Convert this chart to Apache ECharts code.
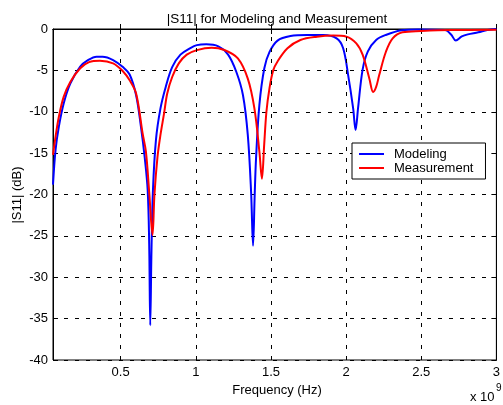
<!DOCTYPE html>
<html>
<head>
<meta charset="utf-8">
<script src="https://cdn.jsdelivr.net/npm/echarts@6/dist/echarts.min.js"></script>
<style>
html,body{margin:0;padding:0;background:#fff;}
#c{width:503px;height:405px;}
</style>
</head>
<body>
<div id="c"></div>
<script>
// Frequency in units of 1e9 Hz
const xTicks = [0.5, 1, 1.5, 2, 2.5, 3];
const yTicks = [0, -5, -10, -15, -20, -25, -30, -35, -40];

const modelingFreq = [0.05,0.067,0.089,0.121,0.165,0.231,0.28,0.34,0.38,0.45,0.515,0.56,0.603,0.635,0.66,0.68,0.69,0.697,0.705,0.715,0.735,0.765,0.8,0.843,0.898,0.964,1.007,1.07,1.15,1.215,1.27,1.314,1.346,1.368,1.381,1.392,1.401,1.423,1.456,1.49,1.544,1.63,1.74,1.85,1.937,1.98,2.014,2.047,2.063,2.08,2.11,2.145,2.2,2.264,2.37,2.48,2.66,2.70,2.73,2.77,2.81,2.88,2.94,3.0];
const modelingDb   = [-18.8,-14.6,-11.8,-9.0,-6.6,-4.55,-3.8,-3.35,-3.35,-3.75,-4.6,-5.5,-8.0,-11.8,-15.5,-19.5,-26,-35.8,-27,-19.5,-13.4,-9.6,-7.0,-4.6,-3.1,-2.3,-1.95,-1.85,-2.1,-3.1,-5.2,-8.0,-12.8,-19.7,-26.2,-20,-15.6,-9.2,-4.75,-2.8,-1.4,-0.85,-0.72,-0.72,-1.13,-2.3,-5.6,-9.6,-12.2,-9.5,-4.9,-2.7,-1.33,-0.72,-0.15,-0.05,-0.12,-0.7,-1.4,-0.9,-0.65,-0.4,-0.12,0];

const measFreq = [0.05,0.067,0.089,0.121,0.165,0.231,0.29,0.362,0.45,0.515,0.56,0.603,0.646,0.668,0.69,0.712,0.725,0.745,0.765,0.789,0.81,0.843,0.887,0.94,1.007,1.106,1.19,1.28,1.346,1.39,1.423,1.44,1.455,1.47,1.49,1.515,1.543,1.61,1.696,1.806,1.915,2.003,2.068,2.11,2.155,2.18,2.2,2.22,2.265,2.31,2.375,2.5,2.7,3.0];
const measDb   = [-15.2,-13.0,-10.6,-8.2,-6.4,-4.75,-4.0,-3.83,-4.15,-5.1,-6.2,-7.8,-12.6,-14.8,-19.7,-24.9,-20,-15.5,-12.8,-10.2,-7.8,-5.8,-4.15,-3.1,-2.55,-2.26,-2.54,-3.55,-6.0,-9.6,-14.8,-18.1,-14,-10,-7.2,-5.0,-3.95,-2.33,-1.33,-0.93,-0.8,-0.93,-1.73,-3.1,-6.0,-7.6,-7.0,-5.6,-2.75,-1.13,-0.4,-0.24,-0.12,-0.1];

const zip = (a, b) => a.map((v, i) => [v, b[i]]);

const FONT = 'Liberation Sans, Arial, sans-serif';
const chart = echarts.init(document.getElementById('c'), null, {renderer: 'canvas'});
const dash = [4, 7];

chart.setOption({
  animation: false,
  backgroundColor: '#fff',
  title: {
    text: '|S11| for Modeling and Measurement',
    left: 272, top: 7, textAlign: 'center',
    textStyle: {fontFamily: FONT, fontSize: 13.5, fontWeight: 'normal', color: '#000'}
  },
  grid: {left: 53, right: 1, top: 29, bottom: 45, show: true, borderColor: '#000', borderWidth: 1, backgroundColor: '#fff'},
  legend: {
    left: 352, top: 143, orient: 'vertical', z: 20,
    padding: [4, 12, 4, 7], itemWidth: 25, itemHeight: 2, itemGap: 0,
    icon: 'rect',
    backgroundColor: '#fff', borderColor: '#000', borderWidth: 1, borderRadius: 0,
    textStyle: {fontFamily: FONT, fontSize: 13, color: '#000', lineHeight: 14, padding: [0, 0, 0, 5]},
    data: ['Modeling', 'Measurement']
  },
  xAxis: [{
    type: 'value', min: 0.05, max: 3, position: 'bottom',
    axisLine: {show: true, lineStyle: {color: '#000', width: 1}},
    axisTick: {show: true, inside: true, length: 5, customValues: xTicks, lineStyle: {color: '#000'}},
    axisLabel: {show: true, customValues: xTicks, margin: 6, fontFamily: FONT, fontSize: 13, color: '#000', formatter: v => String(v)},
    splitLine: {show: false}
  }, {
    type: 'value', min: 0.05, max: 3, position: 'top',
    axisLine: {show: true, lineStyle: {color: '#000', width: 1}},
    axisTick: {show: true, inside: true, length: 5, customValues: xTicks, lineStyle: {color: '#000'}},
    axisLabel: {show: false},
    splitLine: {show: false}
  }],
  yAxis: [{
    type: 'value', min: -40, max: 0, interval: 5, position: 'left',
    axisLine: {show: true, lineStyle: {color: '#000', width: 1}},
    axisTick: {show: true, inside: true, length: 5, lineStyle: {color: '#000'}},
    axisLabel: {margin: 5, fontFamily: FONT, fontSize: 13, color: '#000'},
    splitLine: {show: true, lineStyle: {color: '#000', type: dash, width: 1}}
  }, {
    type: 'value', min: -40, max: 0, interval: 5, position: 'right',
    axisLine: {show: true, lineStyle: {color: '#000', width: 1}},
    axisTick: {show: true, inside: true, length: 5, lineStyle: {color: '#000'}},
    axisLabel: {show: false},
    splitLine: {show: false}
  }],
  graphic: [
    {type: 'text', x: 277, y: 390, style: {text: 'Frequency (Hz)', font: '13px ' + FONT, fill: '#000', align: 'center', verticalAlign: 'middle'}},
    {type: 'text', x: 17, y: 195, rotation: Math.PI / 2, style: {text: '|S11| (dB)', font: '13px ' + FONT, fill: '#000', align: 'center', verticalAlign: 'middle'}},
    {type: 'text', left: 470, top: 391, style: {text: 'x 10', font: '13px ' + FONT, fill: '#000'}},
    {type: 'text', left: 496, top: 383, style: {text: '9', font: '10px ' + FONT, fill: '#000'}}
  ],
  series: [
    {
      name: 'grid', type: 'line', data: [], silent: true, legendHoverLink: false,
      markLine: {
        silent: true, symbol: 'none', label: {show: false}, animation: false,
        lineStyle: {color: '#000', type: dash, width: 1},
        data: xTicks.slice(0, -1).map(v => ({xAxis: v}))
      }
    },
    {
      name: 'Modeling', type: 'line', data: zip(modelingFreq, modelingDb),
      symbol: 'none', smooth: 0.35, clip: true,
      lineStyle: {color: '#0000ff', width: 2}, itemStyle: {color: '#0000ff'}
    },
    {
      name: 'Measurement', type: 'line', data: zip(measFreq, measDb),
      symbol: 'none', smooth: 0.35, clip: true,
      lineStyle: {color: '#ff0000', width: 2}, itemStyle: {color: '#ff0000'}
    }
  ]
});
</script>
</body>
</html>
